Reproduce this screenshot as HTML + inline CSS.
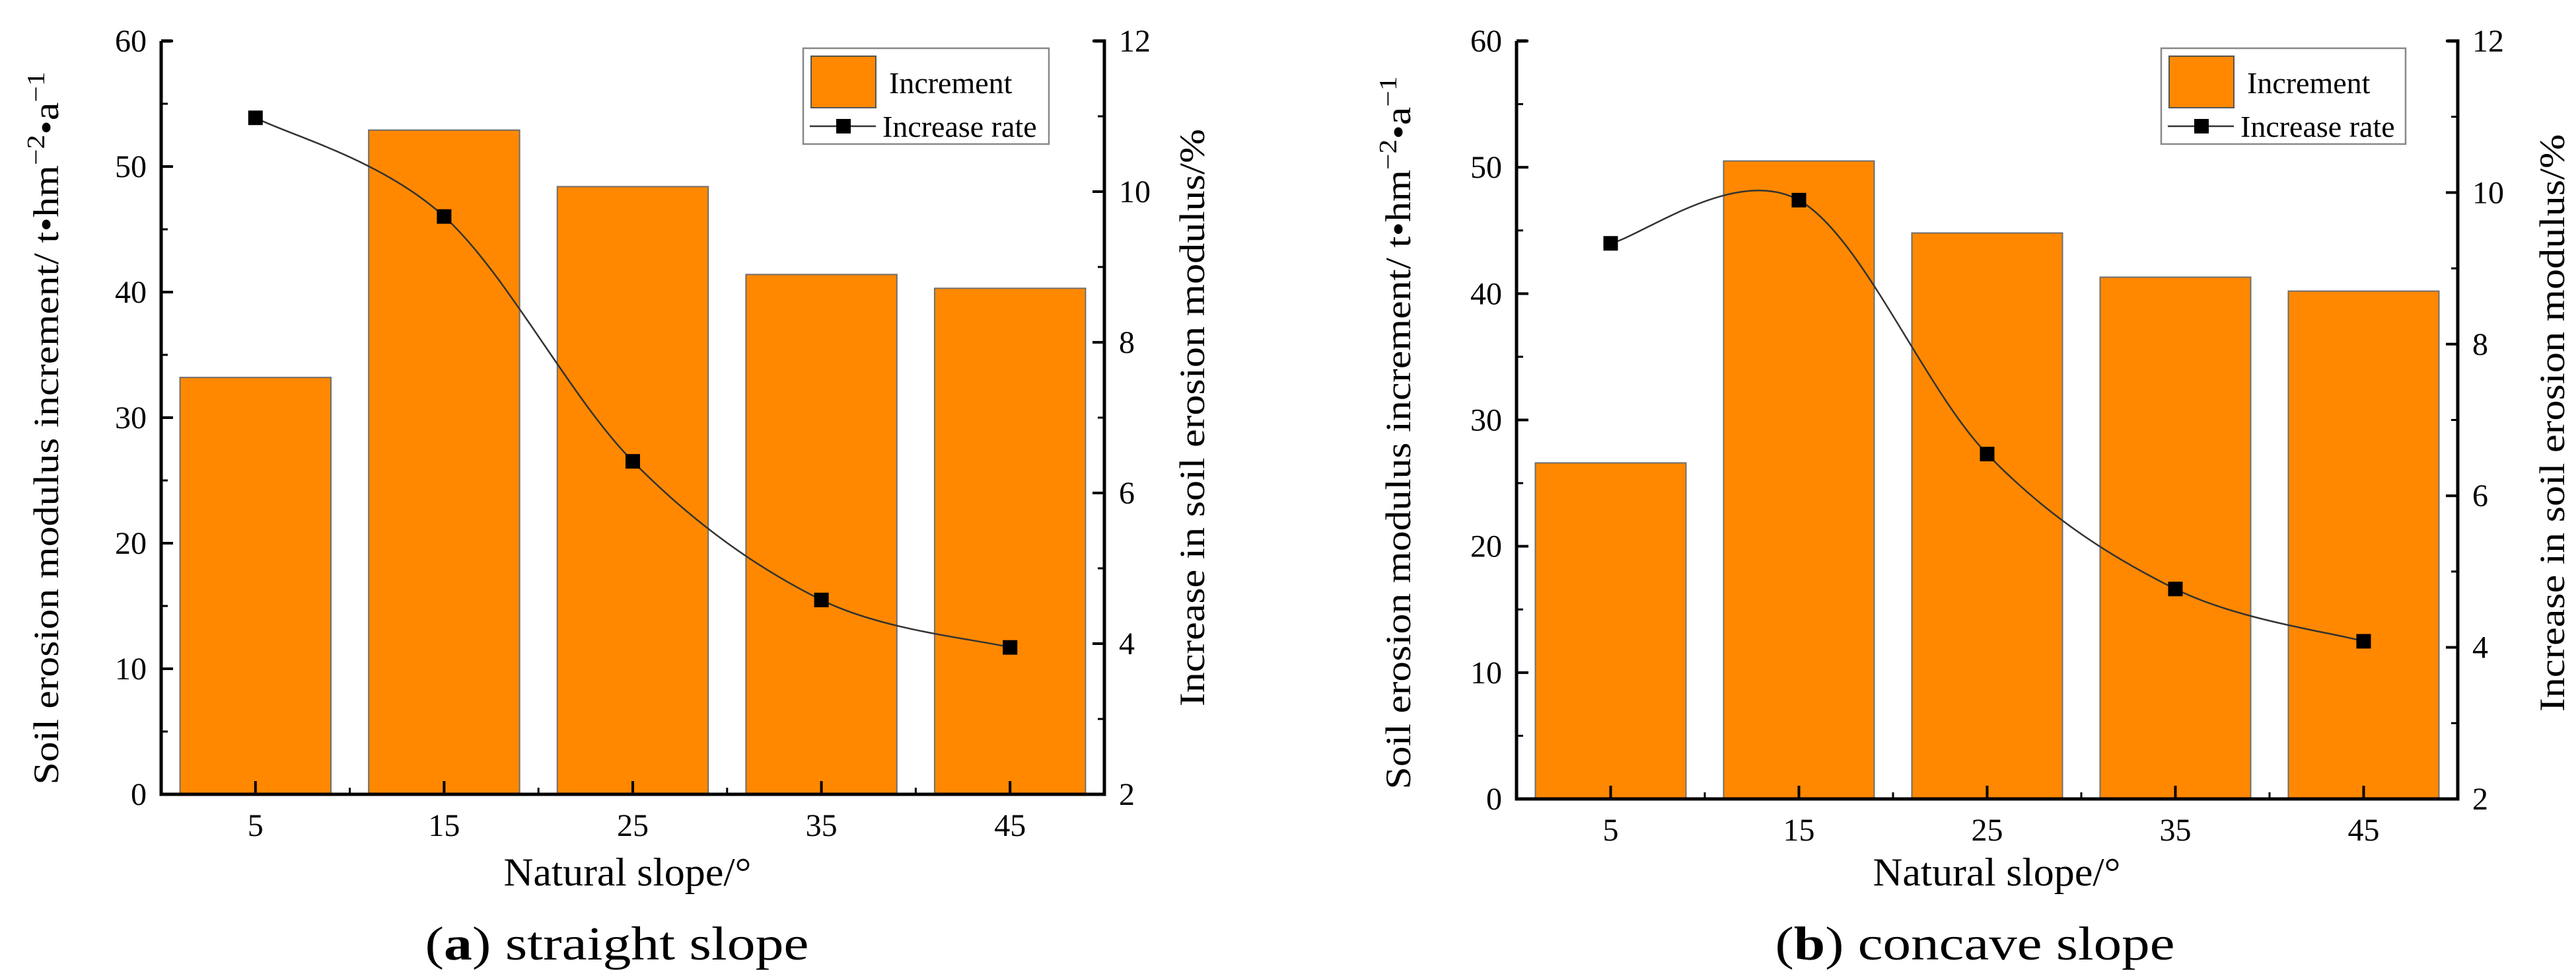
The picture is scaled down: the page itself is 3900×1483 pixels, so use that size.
<!DOCTYPE html>
<html><head><meta charset="utf-8"><style>
html,body{margin:0;padding:0;background:#fff}
svg{display:block;font-family:"Liberation Serif","Times New Roman",serif}
text{font-family:"Liberation Serif","Times New Roman",serif;fill:#000}
</style></head><body>
<svg id="fig" width="3900" height="1483" viewBox="0 0 3900 1483" xmlns="http://www.w3.org/2000/svg" font-family="Liberation Serif, serif"></svg>
<script>
const categories = ["5","15","25","35","45"];
const leftTicks = [0,10,20,30,40,50,60];
const rightTicks = [2,4,6,8,10,12];
const barsA = [33.2,52.9,48.4,41.4,40.3];
const rateA = [10.98,9.67,6.42,4.58,3.95];
const barsB = [26.6,50.5,44.8,41.3,40.2];
const rateB = [9.33,9.90,6.55,4.77,4.08];

const NS="http://www.w3.org/2000/svg";
const svg=document.getElementById('fig');
function mk(tag,attrs,parent){const e=document.createElementNS(NS,tag);for(const k in attrs)e.setAttribute(k,attrs[k]);if(tag==='text')e.setAttribute('font-family','Liberation Serif, serif');(parent||svg).appendChild(e);return e;}

function chart(cfg,bars,rate){
  const g=mk('g',{});
  
  
  const x0=cfg.x0,x1=cfg.x1,y0=cfg.yTop,y1=cfg.yBot;
  const n=categories.length, band=(x1-x0)/n;
  const xc=i=>x0+band*(i+0.5);
  const yL=v=>y1-(v-0)/(60-0)*(y1-y0);
  const yR=v=>y1-(v-2)/(12-2)*(y1-y0);
  bars.forEach((v,i)=>{
    const w=band*0.8;
    const r=mk('rect',{x:xc(i)-w/2,y:yL(v),width:w,height:y1-yL(v),fill:'#ff8800',stroke:'#6e6e6e','stroke-width':2},g);
    
    
  });
  const ax=mk('path',{d:`M${x0},${y0}H${x0+16}M${x0},${y0}V${y1}H${x1}V${y0}H${x1-16}`,stroke:'#000','stroke-width':5,fill:'none'},g);
  
  
  leftTicks.forEach(t=>{
    mk('line',{x1:x0,x2:x0+18,y1:yL(t),y2:yL(t),stroke:'#000','stroke-width':4},g);
    if(t<60) mk('line',{x1:x0,x2:x0+10,y1:yL(t+5),y2:yL(t+5),stroke:'#000','stroke-width':3},g);
    const tx=mk('text',{x:x0-22,y:yL(t)+16,'font-size':48,'text-anchor':'end'},g);
    tx.textContent=t;
    
    
  });
  rightTicks.forEach(t=>{
    mk('line',{x1:x1,x2:x1-18,y1:yR(t),y2:yR(t),stroke:'#000','stroke-width':4},g);
    if(t<12) mk('line',{x1:x1,x2:x1-10,y1:yR(t+1),y2:yR(t+1),stroke:'#000','stroke-width':3},g);
    const tx=mk('text',{x:x1+22,y:yR(t)+16,'font-size':48},g);
    tx.textContent=t;
    
    
  });
  categories.forEach((c,i)=>{
    mk('line',{x1:xc(i),x2:xc(i),y1:y1,y2:y1-20,stroke:'#000','stroke-width':4},g);
    if(i<n-1) mk('line',{x1:x0+band*(i+1),x2:x0+band*(i+1),y1:y1,y2:y1-10,stroke:'#000','stroke-width':3},g);
    const tx=mk('text',{x:xc(i),y:y1+63,'font-size':48,'text-anchor':'middle'},g);
    tx.textContent=c;
    
    
  });
  const pts=rate.map((v,i)=>[xc(i),yR(v)]);
  let d=`M${pts[0][0]},${pts[0][1]}`;
  for(let i=0;i<pts.length-1;i++){
    const p0=pts[Math.max(i-1,0)],p1=pts[i],p2=pts[i+1],p3=pts[Math.min(i+2,pts.length-1)];
    const c1=[p1[0]+(p2[0]-p0[0])/6,p1[1]+(p2[1]-p0[1])/6];
    const c2=[p2[0]-(p3[0]-p1[0])/6,p2[1]-(p3[1]-p1[1])/6];
    d+=`C${c1[0]},${c1[1]} ${c2[0]},${c2[1]} ${p2[0]},${p2[1]}`;
  }
  const ln=mk('path',{d:d,fill:'none',stroke:'#333','stroke-width':2.5},g);
  
  
  pts.forEach((p,i)=>{
    const m=mk('rect',{x:p[0]-11,y:p[1]-11,width:22,height:22,fill:'#000'},g);
    
    
  });
  const L=cfg.leg;
  const lg=mk('g',{},g);
  
  
  mk('rect',{x:L[0],y:L[1],width:L[2]-L[0],height:L[3]-L[1],fill:'#fff',stroke:'#888','stroke-width':2.5},lg);
  mk('rect',{x:L[0]+12,y:L[1]+12,width:98,height:78,fill:'#ff8800',stroke:'#555','stroke-width':2},lg);
  const t1=mk('text',{x:L[0]+130,y:L[1]+68,'font-size':46},lg);t1.textContent='Increment';
  
  
  mk('line',{x1:L[0]+10,x2:L[0]+110,y1:L[1]+118,y2:L[1]+118,stroke:'#333','stroke-width':2.5},lg);
  mk('rect',{x:L[0]+50,y:L[1]+107,width:22,height:22,fill:'#000'},lg);
  const t2=mk('text',{x:L[0]+120,y:L[1]+134,'font-size':46},lg);t2.textContent='Increase rate';
  
  
  const yt=mk('text',{x:0,y:0,'font-size':54,'text-anchor':'middle',textLength:cfg.ylLen,lengthAdjust:'spacingAndGlyphs',transform:`translate(${cfg.ylX},${cfg.ylY}) rotate(-90)`},g);
  yt.innerHTML='Soil erosion modulus increment/ t•hm<tspan baseline-shift="super" font-size="38">−2</tspan>•a<tspan baseline-shift="super" font-size="38">−1</tspan>';
  
  
  const rt=mk('text',{x:0,y:0,'font-size':54,'text-anchor':'middle',textLength:cfg.yrLen,lengthAdjust:'spacingAndGlyphs',transform:`translate(${cfg.yrX},${cfg.yrY}) rotate(-90)`},g);
  rt.textContent='Increase in soil erosion modulus/%';
  
  
  const xt=mk('text',{x:cfg.xtX,y:1340,'font-size':60,'text-anchor':'middle',textLength:cfg.xtLen,lengthAdjust:'spacingAndGlyphs'},g);
  xt.textContent='Natural slope/°';
  
  
  const cp=mk('text',{x:cfg.capX,y:1452,'font-size':72,'text-anchor':'middle',textLength:cfg.capLen,lengthAdjust:'spacingAndGlyphs'},g);
  cp.innerHTML='(<tspan font-weight="bold">'+cfg.letter+'</tspan>) '+cfg.caption;
  
  
}
chart({name:'chart-a-straight-slope',x0:244,x1:1672,yTop:62,yBot:1202,leg:[1216,73,1588,218],
  ylX:88,ylY:648,ylLen:1079,yrX:1823,yrY:632,yrLen:874,xtX:950,xtLen:375,capX:934,capLen:581,letter:'a',caption:'straight slope'},barsA,rateA);
chart({name:'chart-b-concave-slope',x0:2296,x1:3721,yTop:62,yBot:1209,leg:[3272,73,3642,218],
  ylX:2135,ylY:655,ylLen:1079,yrX:3882,yrY:640,yrLen:874,xtX:3023,xtLen:375,capX:2990,capLen:605,letter:'b',caption:'concave slope'},barsB,rateB);
</script>
</body></html>
